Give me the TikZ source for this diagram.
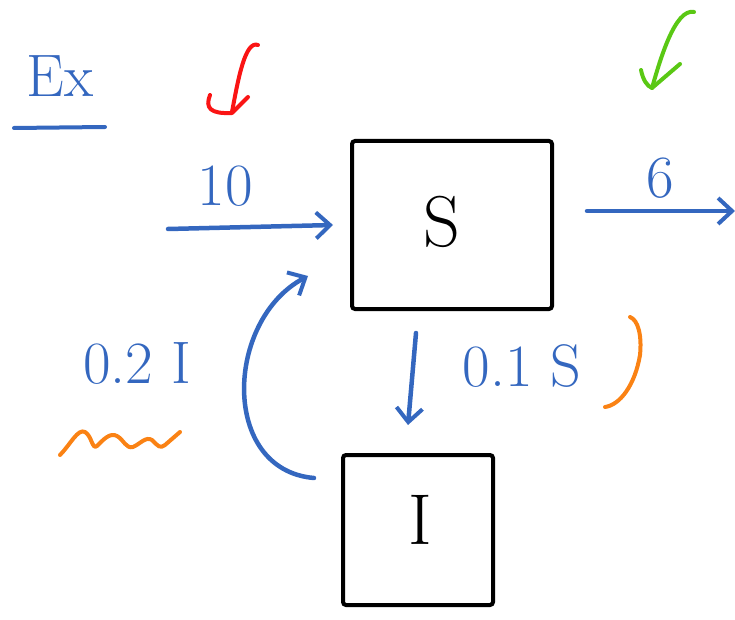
\documentclass[tikz,border=0pt]{standalone}
\usetikzlibrary{arrows.meta}
\definecolor{hblue}{RGB}{52,103,191}
\definecolor{hred}{RGB}{250,20,20}
\definecolor{hgreen}{RGB}{90,200,20}
\definecolor{horange}{RGB}{250,130,20}
\tikzset{
  box/.style={draw=black, line width=4pt, rounded corners=3pt, inner sep=0pt},
  lab/.style={text=hblue, font=\fontsize{60}{66}\selectfont},
  big/.style={text=black, font=\fontsize{72}{80}\selectfont},
  arr/.style={draw=hblue, line width=4.5pt, line cap=round, -{Straight Barb[length=14pt,width=26pt,line width=4pt]}},
  ink/.style={line width=4pt, line cap=round, line join=round},
}
\begin{document}
\begin{tikzpicture}[x=1pt,y=-1pt]
\useasboundingbox (0,0) rectangle (735,620);
% boxes
\node[box, minimum width=200pt, minimum height=168pt] (S) at (452,225) {};
\node[big] (Slab) at (442,222) {S};
\node[box, minimum width=150pt, minimum height=150pt] (I) at (418,530) {};
\node[big] (Ilab) at (420,520) {I};
% heading
\node[lab] (Ex) at (60,76) {Ex};
\draw[ink, draw=hblue] (14,128) -- (105,127);
% checks
\draw[ink, draw=hred] (258,45) .. controls (245,40) and (238,80) .. (232,112);
\draw[ink, draw=hred] (210,95) .. controls (205,108) and (210,114) .. (232,113) -- (248,97);
\draw[ink, draw=hgreen] (694,12) .. controls (675,8) and (660,60) .. (652,88);
\draw[ink, draw=hgreen] (641,70) .. controls (643,80) and (647,86) .. (652,88) -- (680,64);
% flows
\coordinate (src) at (168,229);
\coordinate (sink) at (735,211);
\draw[arr] (src) -- ([xshift=-17]S.west);
\node[lab] (l10) at (225,186) {10};
\draw[arr] ([xshift=33,yshift=14]S.east) -- (sink);
\node[lab] (l6) at (660,178) {6};
\draw[arr] ([xshift=-36,yshift=-22]S.south) -- ([xshift=-10,yshift=28]I.north);
\node[lab] (l01) at (522,366) {0.1 S};
\draw[arr] ([shift={(-27,25)}]I.north west) .. controls (220,470) and (225,320) .. ([shift={(-42,-35)}]S.south west);
\node[lab] (l02) at (137,363) {0.2 I};
% orange marks
\draw[ink, draw=horange] (60,455) .. controls (70,445) and (78,428) .. (85,432)
  .. controls (92,436) and (92,450) .. (97,446) .. controls (103,440) and (110,432) .. (117,436)
  .. controls (124,440) and (126,449) .. (133,447) .. controls (140,444) and (146,436) .. (152,440)
  .. controls (158,446) and (160,449) .. (165,445) -- (180,432);
\draw[ink, draw=horange] (605,407) .. controls (620,405) and (635,385) .. (640,355) .. controls (642,335) and (638,320) .. (630,317);
\end{tikzpicture}
\end{document}
